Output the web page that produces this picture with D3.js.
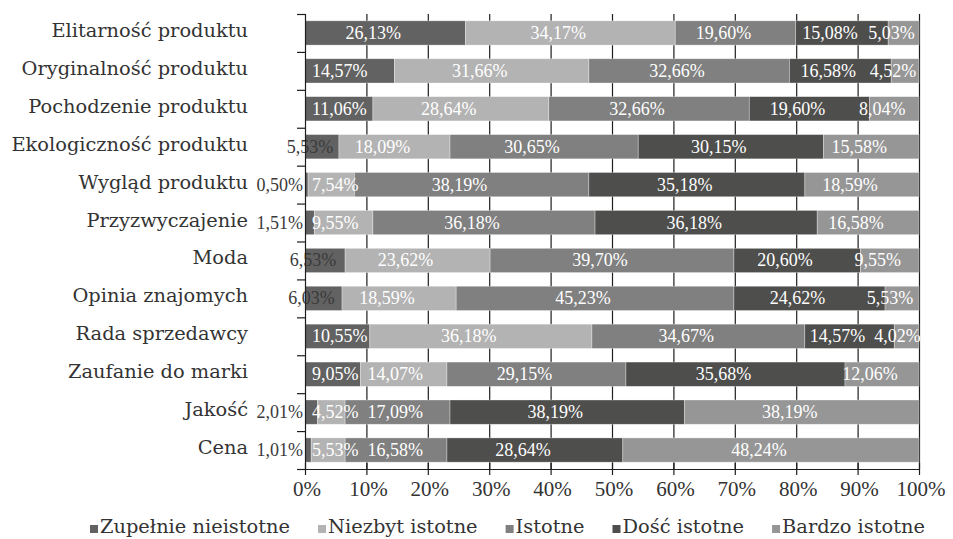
<!DOCTYPE html>
<html>
<head>
<meta charset="utf-8">
<script src="https://cdn.jsdelivr.net/npm/d3@7"></script>
<style>
  html, body { margin: 0; padding: 0; background: #fff; }
  svg { display: block; }
</style>
</head>
<body>
<svg id="chart" width="953" height="539"></svg>
<script>
// Factors, top to bottom
const categories = [
  "Elitarność produktu",
  "Oryginalność produktu",
  "Pochodzenie produktu",
  "Ekologiczność produktu",
  "Wygląd produktu",
  "Przyzwyczajenie",
  "Moda",
  "Opinia znajomych",
  "Rada sprzedawcy",
  "Zaufanie do marki",
  "Jakość",
  "Cena"
];

// Rating levels (stack order, left to right)
const seriesNames = [
  "Zupełnie nieistotne",
  "Niezbyt istotne",
  "Istotne",
  "Dość istotne",
  "Bardzo istotne"
];

// Share of answers (%) per level, one value per factor
const zupelnieNieistotne = [26.13, 14.57, 11.06, 5.53, 0.50, 1.51, 6.53, 6.03, 10.55, 9.05, 2.01, 1.01];
const niezbytIstotne     = [34.17, 31.66, 28.64, 18.09, 7.54, 9.55, 23.62, 18.59, 36.18, 14.07, 4.52, 5.53];
const istotne            = [19.60, 32.66, 32.66, 30.65, 38.19, 36.18, 39.70, 45.23, 34.67, 29.15, 17.09, 16.58];
const doscIstotne        = [15.08, 16.58, 19.60, 30.15, 35.18, 36.18, 20.60, 24.62, 14.57, 35.68, 38.19, 28.64];
const bardzoIstotne      = [5.03, 4.52, 8.04, 15.58, 18.59, 16.58, 9.55, 5.53, 4.02, 12.06, 38.19, 48.24];

const seriesValues = [zupelnieNieistotne, niezbytIstotne, istotne, doscIstotne, bardzoIstotne];

const xTicks = [0, 10, 20, 30, 40, 50, 60, 70, 80, 90, 100];

const colors = ["#626262", "#b3b3b3", "#7f807f", "#4e4e4c", "#969696"];

const textFont = "'DejaVu Serif', serif";
const numFont = "'Liberation Serif', 'Times New Roman', serif";
const textColor = "#333";

// Build stack input
const rows = categories.map((c, i) => {
  const r = { cat: c };
  seriesNames.forEach((s, j) => { r[s] = seriesValues[j][i]; });
  return r;
});
const stacked = d3.stack().keys(seriesNames)(rows);

const svg = d3.select("#chart");

const plot = { left: 305, right: 919, top: 14, bottom: 469 };

const x = d3.scaleLinear().domain([0, 100]).range([plot.left, plot.right]);
const pad = 0.36;
const y = d3.scaleBand().domain(categories)
  .range([plot.top, plot.bottom])
  .paddingInner(pad).paddingOuter(pad / 2);
const step = y.step();

const fmt = v => v.toFixed(2).replace(".", ",") + "%";

// Vertical gridlines
svg.append("g")
  .selectAll("line")
  .data(xTicks.filter(t => t > 0))
  .join("line")
  .attr("x1", d => x(d) + 0.5).attr("x2", d => x(d) + 0.5)
  .attr("y1", plot.top).attr("y2", plot.bottom)
  .attr("stroke", "#1e1e1e").attr("stroke-width", 1.2);

// Bars
const layers = svg.append("g").selectAll("g")
  .data(stacked)
  .join("g")
  .attr("fill", (d, i) => colors[i]);

layers.selectAll("rect")
  .data(d => d)
  .join("rect")
  .attr("x", d => x(d[0]))
  .attr("width", d => x(d[1]) - x(d[0]))
  .attr("y", d => y(d.data.cat))
  .attr("height", y.bandwidth())
  .attr("stroke", "rgba(255,255,255,0.45)")
  .attr("stroke-width", 0.7);

// Data labels, laid out row by row so neighbouring labels keep apart
const labelG = svg.append("g")
  .attr("font-family", numFont)
  .attr("font-size", 18);

categories.forEach((cat, ri) => {
  let prevEnd = -Infinity;
  stacked.forEach((layer, si) => {
    const d = layer[ri];
    const v = d[1] - d[0];
    const x0 = x(d[0]), x1 = x(d[1]);
    const cy = y(cat) + y.bandwidth() / 2 + 6;
    const t = labelG.append("text")
      .attr("y", cy)
      .text(fmt(v));
    const w = t.node().getComputedTextLength();
    const segW = x1 - x0;
    const outside = si === 0 && w > segW;   // first-level label spilling left of the bar
    let lx = (x0 + x1) / 2 - 12 - w / 2;
    if (outside) {
      if (segW < 18) lx = plot.left - 2 - w;
    } else {
      lx = Math.max(lx, plot.left + 7, prevEnd + 9);
    }
    prevEnd = lx + w;
    t.attr("x", lx)
     .attr("fill", outside ? "#3a3a3a" : "#fff");
  });
});

// Left axis with category ticks
const yAxis = svg.append("g").attr("stroke", "#1e1e1e").attr("stroke-width", 1.2);
yAxis.append("line")
  .attr("x1", plot.left + 0.5).attr("x2", plot.left + 0.5)
  .attr("y1", plot.top).attr("y2", plot.bottom);
yAxis.selectAll("line.tick")
  .data(d3.range(categories.length + 1))
  .join("line")
  .attr("class", "tick")
  .attr("x1", plot.left - 8).attr("x2", plot.left + 0.5)
  .attr("y1", i => plot.top + i * step + 0.5)
  .attr("y2", i => plot.top + i * step + 0.5);

svg.append("g")
  .attr("font-family", textFont)
  .attr("font-size", 19.4)
  .attr("fill", textColor)
  .attr("text-anchor", "end")
  .selectAll("text")
  .data(categories)
  .join("text")
  .attr("x", 248)
  .attr("y", d => y(d) + y.bandwidth() / 2 + 4)
  .text(d => d);

// Bottom axis
const xAxis = svg.append("g").attr("stroke", "#1e1e1e").attr("stroke-width", 1.2);
xAxis.append("line")
  .attr("x1", plot.left).attr("x2", plot.right + 1)
  .attr("y1", plot.bottom + 0.5).attr("y2", plot.bottom + 0.5);
xAxis.selectAll("line.tick")
  .data(xTicks)
  .join("line")
  .attr("class", "tick")
  .attr("x1", d => x(d) + 0.5).attr("x2", d => x(d) + 0.5)
  .attr("y1", plot.bottom - 6).attr("y2", plot.bottom + 6);

svg.append("g")
  .attr("font-family", numFont)
  .attr("font-size", 21)
  .attr("fill", textColor)
  .attr("text-anchor", "middle")
  .selectAll("text")
  .data(xTicks)
  .join("text")
  .attr("x", d => x(d) + 2)
  .attr("y", 496)
  .text(d => d + "%");

// Legend
const legend = svg.append("g")
  .attr("font-family", textFont)
  .attr("font-size", 19.4)
  .attr("fill", textColor);

const items = seriesNames.map((s, i) => {
  const g = legend.append("g");
  g.append("rect").attr("x", 0).attr("y", -8).attr("width", 8).attr("height", 8).attr("fill", colors[i]);
  const t = g.append("text").attr("x", 10).attr("y", 0).text(s);
  return { g, w: 10 + t.node().getComputedTextLength() };
});
const legLeft = 90, legRight = 925;
const totalW = d3.sum(items, d => d.w);
const gap = (legRight - legLeft - totalW) / (items.length - 1);
let cx = legLeft;
items.forEach(it => {
  it.g.attr("transform", `translate(${cx},533)`);
  cx += it.w + gap;
});
</script>
</body>
</html>
